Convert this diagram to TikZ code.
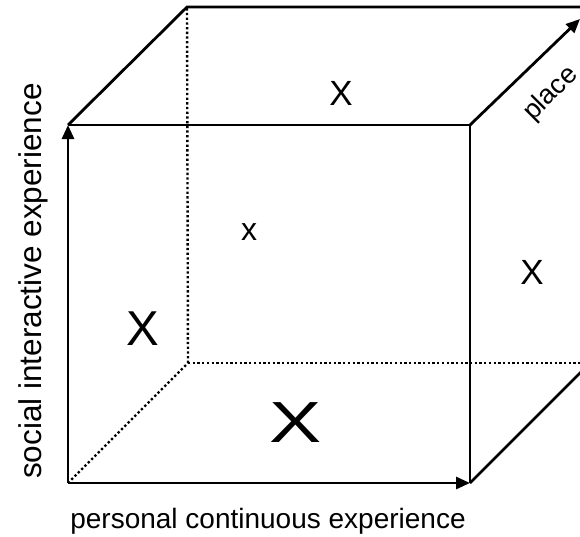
\documentclass[tikz,border=0pt]{standalone}
\usepackage{fontspec}
\setmainfont{Liberation Sans}
\usetikzlibrary{arrows.meta}
\begin{document}
\begin{tikzpicture}[x=1pt,y=-1pt,
  edge/.style={line width=2.8pt, line cap=butt},
  hidden/.style={line width=2.4pt, dash pattern=on 2.3pt off 2.4pt},
  axis/.style={edge, -{Triangle[length=14pt,width=12pt]}},
  lbl/.style={inner sep=0pt, font=\fontsize{28}{32}\selectfont},
  xmark/.style={inner sep=0pt}]
\useasboundingbox (0,0) rectangle (580,536);
\fill[white] (0,0) rectangle (580,536);
\clip (0,0) rectangle (580,536);
% front face
\coordinate (A) at (68,483);
\coordinate (B) at (470,483);
\coordinate (C) at (470,125);
\coordinate (D) at (68,125);
% back face
\coordinate (E) at (188,363);
\coordinate (F) at (590,363);
\coordinate (G) at (590,7);
\coordinate (H) at (187,7);
\coordinate (P) at (580,19);
% hidden edges
\draw[hidden] (A) -- (E);
\draw[hidden] (E) -- (H);
\draw[hidden] (E) -- (F);
% visible edges
\draw[edge] (D) -- (C) -- (B);
\draw[edge] (D) -- (H) -- (G);
\draw[edge] (B) -- (F);
\draw[axis] (C) -- (P);
\draw[axis] (A) -- (B);
\draw[axis] (A) -- (D);
% labels
\node[lbl, anchor=base] (lx) at (268,528) {personal continuous experience};
\node[lbl, anchor=base, rotate=90, font=\fontsize{31.5}{34}\selectfont] (ly) at (41,281) {social interactive experience};
\node[lbl, rotate=45, font=\fontsize{27}{30}\selectfont] (lz) at (551,94) {place};
% marks
\node[xmark, font=\fontsize{58}{60}\selectfont, xscale=1.35] (x1) at (296,423) {X};
\node[xmark, font=\fontsize{49}{52}\selectfont] (x2) at (143,329) {X};
\node[xmark, font=\fontsize{32}{34}\selectfont] (x3) at (249,232) {x};
\node[xmark, font=\fontsize{35}{38}\selectfont] (x4) at (341,93) {X};
\node[xmark, font=\fontsize{35}{38}\selectfont] (x5) at (532,272) {X};
\end{tikzpicture}
\end{document}
